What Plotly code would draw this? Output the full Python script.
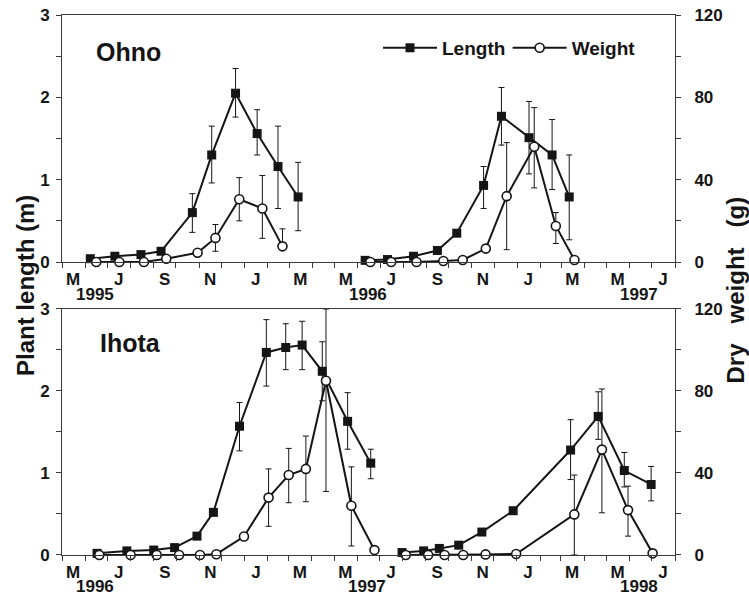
import pandas as pd
import plotly.graph_objects as go

# ---------------- data ----------------
# Ohno, season 1 (1995-96)
ohno1_len_dates = ["1995-06-08", "1995-07-11", "1995-08-15", "1995-09-11", "1995-10-23",
                   "1995-11-18", "1995-12-20", "1996-01-18", "1996-02-15", "1996-03-13"]
ohno1_len = [0.04, 0.07, 0.09, 0.13, 0.60, 1.30, 2.05, 1.56, 1.16, 0.79]
ohno1_len_ep = [None, None, None, None, 0.23, 0.35, 0.30, 0.29, 0.49, 0.42]
ohno1_len_em = [None, None, None, None, 0.24, 0.34, 0.29, 0.26, 0.51, 0.41]
ohno1_wt_dates = ["1995-06-16", "1995-07-17", "1995-08-19", "1995-09-18", "1995-10-30",
                  "1995-11-23", "1995-12-25", "1996-01-25", "1996-02-21"]
ohno1_wt = [0, 0, 0, 1.6, 4.5, 11.7, 30.5, 26, 7.6]
ohno1_wt_ep = [None, None, None, None, None, 6.5, 10.5, 16, 8.5]
ohno1_wt_em = [None, None, None, None, None, 6.5, 10.5, 14.5, 0]

# Ohno, season 2 (1996-97)
ohno2_len_dates = ["1996-06-11", "1996-07-11", "1996-08-15", "1996-09-16", "1996-10-12",
                   "1996-11-17", "1996-12-11", "1997-01-17", "1997-02-17", "1997-03-12"]
ohno2_len = [0.02, 0.03, 0.07, 0.14, 0.35, 0.93, 1.77, 1.51, 1.30, 0.79]
ohno2_len_ep = [None, None, None, None, None, 0.23, 0.35, 0.44, 0.43, 0.51]
ohno2_len_em = [None, None, None, None, None, 0.28, 0.35, 0.44, 0.42, 0.52]
ohno2_wt_dates = ["1996-06-18", "1996-07-16", "1996-08-19", "1996-09-24", "1996-10-20",
                  "1996-11-20", "1996-12-18", "1997-01-24", "1997-02-22", "1997-03-19"]
ohno2_wt = [0, 0, 0, 0.5, 1, 6.5, 32, 56, 17.5, 1]
ohno2_wt_ep = [None, None, None, None, None, None, 26, 19, 6.5, None]
ohno2_wt_em = [None, None, None, None, None, None, 26, 20, 8.5, None]

# Ihota, season 1 (1996-97)
ihota1_len_dates = ["1996-06-17", "1996-07-27", "1996-09-01", "1996-09-29", "1996-10-29",
                    "1996-11-20", "1996-12-25", "1997-01-30", "1997-02-25", "1997-03-19",
                    "1997-04-15", "1997-05-19", "1997-06-19"]
ihota1_len = [0.02, 0.05, 0.06, 0.09, 0.23, 0.52, 1.57, 2.47, 2.53, 2.56, 2.24, 1.63, 1.12]
ihota1_len_ep = [None, None, None, None, None, None, 0.29, 0.40, 0.29, 0.29, 0.36, 0.35, 0.17]
ihota1_len_em = [None, None, None, None, None, None, 0.30, 0.41, 0.27, 0.30, 0.36, 0.34, 0.19]
ihota1_wt_dates = ["1996-06-20", "1996-08-01", "1996-09-05", "1996-10-05", "1996-11-02",
                   "1996-11-24", "1996-12-31", "1997-02-02", "1997-03-01", "1997-03-24",
                   "1997-04-20", "1997-05-24", "1997-06-24"]
ihota1_wt = [0, 0, 0, 0, 0, 0.4, 9, 28, 39, 42, 85, 24, 2.4]
ihota1_wt_ep = [None, None, None, None, None, None, None, 14, 13, 16, 35, 19, None]
ihota1_wt_em = [None, None, None, None, None, None, None, 14, 13.5, 16, 54, 19.6, None]

# Ihota, season 2 (1997-98)
ihota2_len_dates = ["1997-07-31", "1997-08-29", "1997-09-19", "1997-10-15", "1997-11-15",
                    "1997-12-27", "1998-03-14", "1998-04-20", "1998-05-25", "1998-06-30"]
ihota2_len = [0.03, 0.05, 0.08, 0.12, 0.28, 0.54, 1.28, 1.69, 1.03, 0.86]
ihota2_len_ep = [None, None, None, None, None, None, 0.37, 0.30, 0.22, 0.22]
ihota2_len_em = [None, None, None, None, None, None, 0.36, 0.28, 0.20, 0.20]
ihota2_wt_dates = ["1997-08-05", "1997-09-04", "1997-09-26", "1997-10-21", "1997-11-20",
                   "1997-12-31", "1998-03-19", "1998-04-25", "1998-05-30", "1998-07-02"]
ihota2_wt = [0, 0, 0, 0, 0.3, 0.5, 19.8, 51.4, 21.9, 0.8]
ihota2_wt_ep = [None, None, None, None, None, None, 19.2, 29.6, 11.7, None]
ihota2_wt_em = [None, None, None, None, None, None, 19.8, 30.8, 12.7, None]

month_letters = ["M", "J", "S", "N", "J", "M", "M", "J", "S", "N", "J", "M", "M", "J"]
top_years = ["1995", "1996", "1997"]
bottom_years = ["1996", "1997", "1998"]
site_names = ["Ohno", "Ihota"]
len_ticks = [0, 1, 2, 3]
wt_ticks = [0, 40, 80, 120]

# ---------------- style ----------------
FONT = "Liberation Sans, Arial, Helvetica, sans-serif"
INK = "#151515"
AX = "#3a3a3a"

fig = go.Figure()


def add_len(dates, vals, ep, em, xa, ya, show, legend):
    fig.add_trace(go.Scatter(
        x=dates, y=vals, xaxis=xa, yaxis=ya, mode="lines+markers", name="Length",
        legend=legend, showlegend=show, cliponaxis=False,
        line=dict(color=INK, width=2),
        marker=dict(symbol="square", size=9, color=INK, line=dict(width=0)),
        error_y=dict(type="data", symmetric=False, array=ep, arrayminus=em,
                     color=INK, thickness=1, width=3)))


def add_wt(dates, vals, ep, em, xa, ya, show, legend):
    fig.add_trace(go.Scatter(
        x=dates, y=vals, xaxis=xa, yaxis=ya, mode="lines+markers", name="Weight",
        legend=legend, showlegend=show, cliponaxis=False,
        line=dict(color=INK, width=2),
        marker=dict(symbol="circle", size=9, color="white", line=dict(color=INK, width=1.6)),
        error_y=dict(type="data", symmetric=False, array=ep, arrayminus=em,
                     color=INK, thickness=1, width=3)))


add_len(ohno1_len_dates, ohno1_len, ohno1_len_ep, ohno1_len_em, "x", "y", True, "legend")
add_len(ohno2_len_dates, ohno2_len, ohno2_len_ep, ohno2_len_em, "x", "y", False, "legend")
add_wt(ohno1_wt_dates, ohno1_wt, ohno1_wt_ep, ohno1_wt_em, "x", "y2", True, "legend2")
add_wt(ohno2_wt_dates, ohno2_wt, ohno2_wt_ep, ohno2_wt_em, "x", "y2", False, "legend2")
add_len(ihota1_len_dates, ihota1_len, ihota1_len_ep, ihota1_len_em, "x2", "y3", False, "legend")
add_len(ihota2_len_dates, ihota2_len, ihota2_len_ep, ihota2_len_em, "x2", "y3", False, "legend")
add_wt(ihota1_wt_dates, ihota1_wt, ihota1_wt_ep, ihota1_wt_em, "x2", "y4", False, "legend2")
add_wt(ihota2_wt_dates, ihota2_wt, ihota2_wt_ep, ihota2_wt_em, "x2", "y4", False, "legend2")


def xaxis_cfg(start_year):
    starts = pd.date_range(f"{start_year}-05-01", periods=28, freq="MS")
    mids = [d + pd.Timedelta(days=15) for d in starts[0:27:2]]
    return dict(
        type="date", range=[starts[0].strftime("%Y-%m-%d"), starts[27].strftime("%Y-%m-%d")],
        tickmode="array", tickvals=[d.strftime("%Y-%m-%d") for d in mids], ticktext=month_letters,
        ticks="outside", ticklen=2, tickcolor="rgba(0,0,0,0)",
        minor=dict(tickmode="array", tickvals=[d.strftime("%Y-%m-%d") for d in starts],
                   ticks="outside", ticklen=5, tickcolor=AX, tickwidth=1),
        showline=True, linecolor=AX, linewidth=1, mirror=True,
        showgrid=False, zeroline=False, automargin=False,
        tickfont=dict(family=FONT, size=17, color=INK, weight="bold"))


def yleft_cfg(domain, anchor):
    return dict(domain=domain, anchor=anchor, range=[0, 3], tickmode="array", tickvals=len_ticks,
                ticks="outside", ticklen=5, tickcolor=AX,
                minor=dict(tickmode="linear", tick0=0, dtick=0.5, ticks="outside", ticklen=5, tickcolor=AX),
                showline=True, linecolor=AX, linewidth=1, showgrid=False, zeroline=False,
                ticklabelstandoff=3, automargin=False,
                tickfont=dict(family=FONT, size=17, color=INK, weight="bold"))


def yright_cfg(overlay, anchor):
    return dict(overlaying=overlay, side="right", anchor=anchor, range=[0, 120], tickmode="array",
                tickvals=wt_ticks, ticks="outside", ticklen=5, tickcolor=AX,
                minor=dict(tickmode="linear", tick0=0, dtick=20, ticks="outside", ticklen=5, tickcolor=AX),
                showline=True, linecolor=AX, linewidth=1, showgrid=False, zeroline=False,
                ticklabelstandoff=10, automargin=False,
                tickfont=dict(family=FONT, size=17, color=INK, weight="bold"))


top_dom = [0.5426, 1.0]
bot_dom = [0.0, 0.4556]

fig.update_layout(
    width=749, height=598, margin=dict(l=62, r=74, t=15, b=43, autoexpand=False),
    paper_bgcolor="white", plot_bgcolor="white",
    xaxis=dict(anchor="y", domain=[0, 1], **xaxis_cfg(1995)),
    xaxis2=dict(anchor="y3", domain=[0, 1], **xaxis_cfg(1996)),
    yaxis=yleft_cfg(top_dom, "x"),
    yaxis2=yright_cfg("y", "x"),
    yaxis3=yleft_cfg(bot_dom, "x2"),
    yaxis4=yright_cfg("y3", "x2"),
    legend=dict(x=0.5155, y=0.939, xanchor="left", yanchor="middle", orientation="h",
                bgcolor="rgba(0,0,0,0)", itemwidth=54,
                font=dict(family=FONT, size=19, color=INK, weight="bold")),
    legend2=dict(x=0.727, y=0.939, xanchor="left", yanchor="middle", orientation="h",
                 bgcolor="rgba(0,0,0,0)", itemwidth=54,
                 font=dict(family=FONT, size=19, color=INK, weight="bold")),
)

annotations = []
# year labels under the month letters
for yrs, yref in ((top_years, "y"), (bottom_years, "y3")):
    xref = "x" if yref == "y" else "x2"
    for yr in yrs:
        annotations.append(dict(x=f"{yr}-05-01", y=0, xref=xref, yref=yref, text=yr,
                                showarrow=False, xanchor="left", yanchor="middle",
                                xshift=12, yshift=-32,
                                font=dict(family=FONT, size=17, color=INK, weight="bold")))
# site labels
annotations.append(dict(x=0.052, y=0.931, xref="paper", yref="paper", text=site_names[0],
                        showarrow=False, xanchor="left", yanchor="middle",
                        font=dict(family=FONT, size=25, color=INK, weight="bold")))
annotations.append(dict(x=0.0587, y=0.3926, xref="paper", yref="paper", text=site_names[1],
                        showarrow=False, xanchor="left", yanchor="middle",
                        font=dict(family=FONT, size=25, color=INK, weight="bold")))
# axis titles
annotations.append(dict(x=-0.0604, y=0.5, xref="paper", yref="paper", text="Plant length (m)",
                        textangle=-90, showarrow=False, xanchor="center", yanchor="middle",
                        font=dict(family=FONT, size=24, color=INK, weight="bold")))
annotations.append(dict(x=1.098, y=0.49, xref="paper", yref="paper",
                        text="Dry\u00a0\u00a0\u00a0weight\u00a0\u00a0\u00a0(g)",
                        textangle=-90, showarrow=False, xanchor="center", yanchor="middle",
                        font=dict(family=FONT, size=24, color=INK, weight="bold")))
fig.update_layout(annotations=annotations)

fig.write_html("out.html", config={"displayModeBar": False},
               post_script="document.body.style.margin='0px';")
